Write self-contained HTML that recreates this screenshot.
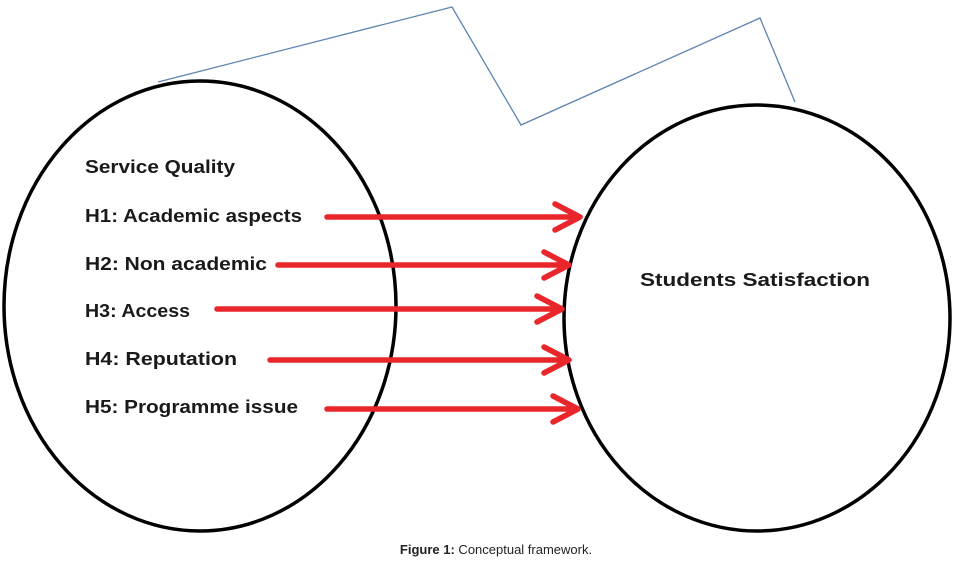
<!DOCTYPE html>
<html><head><meta charset="utf-8"><style>html,body{margin:0;padding:0;background:#fff}svg{display:block}</style></head>
<body>
<svg width="960" height="562" viewBox="0 0 960 562" xmlns="http://www.w3.org/2000/svg">
<polyline points="158,82 452,7 521,125 760,18 795,102" fill="none" stroke="#5b84b1" stroke-width="1.3"/>
<ellipse cx="200" cy="306" rx="196" ry="225" fill="none" stroke="#000" stroke-width="3.5"/>
<ellipse cx="757" cy="318" rx="193" ry="213" fill="none" stroke="#000" stroke-width="3.5"/>
<g font-family="Liberation Sans, sans-serif" font-weight="bold" font-size="18" fill="#1a1a1a">
<text x="85" y="173" textLength="150" lengthAdjust="spacingAndGlyphs">Service Quality</text>
<text x="85" y="222" textLength="217" lengthAdjust="spacingAndGlyphs">H1: Academic aspects</text>
<text x="85" y="270" textLength="182" lengthAdjust="spacingAndGlyphs">H2: Non academic</text>
<text x="85" y="317" textLength="105" lengthAdjust="spacingAndGlyphs">H3: Access</text>
<text x="85" y="365" textLength="152" lengthAdjust="spacingAndGlyphs">H4: Reputation</text>
<text x="85" y="413" textLength="213" lengthAdjust="spacingAndGlyphs">H5: Programme issue</text>
<text x="640" y="286" textLength="230" lengthAdjust="spacingAndGlyphs">Students Satisfaction</text>
</g>
<g stroke="#e8262b" stroke-width="5.5" fill="none" stroke-linecap="round" stroke-linejoin="round">
<path d="M327,217 H580 M555,204 L580,217 L555,230"/>
<path d="M278,265 H569 M544,252 L569,265 L544,278"/>
<path d="M217,309 H562 M537,296 L562,309 L537,322"/>
<path d="M270,360 H569 M544,347 L569,360 L544,373"/>
<path d="M327,409 H578 M553,396 L578,409 L553,422"/>
</g>
<text x="496" y="554" text-anchor="middle" font-family="Liberation Sans, sans-serif" font-size="13" fill="#222"><tspan font-weight="bold">Figure 1:</tspan> Conceptual framework.</text>
</svg>
</body></html>
